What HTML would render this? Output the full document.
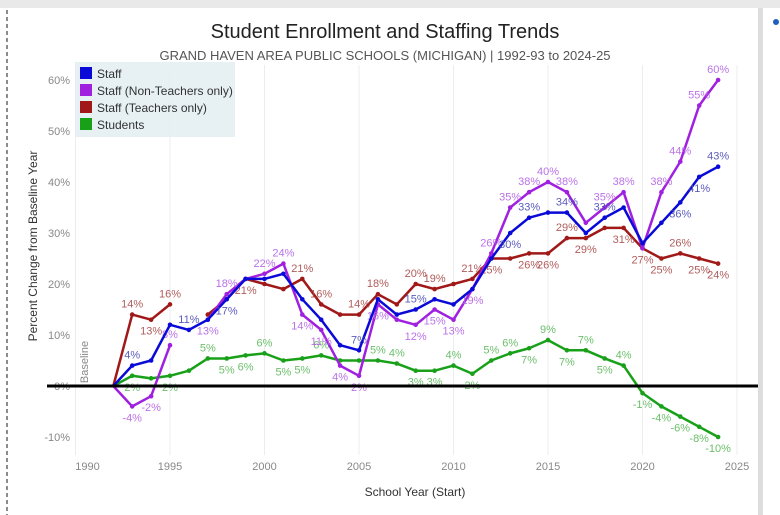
<!DOCTYPE html>
<html><head><meta charset="utf-8"><style>
body{margin:0;background:#fff;width:780px;height:515px;overflow:hidden;font-family:"Liberation Sans","DejaVu Sans",sans-serif}
svg{display:block}
</style></head><body>
<svg id="chart" width="780" height="515">
<rect x="0" y="0" width="780" height="8" fill="#e9e9e9"/>
<line x1="7" y1="10" x2="7" y2="515" stroke="#666" stroke-dasharray="4,3" stroke-width="1.5"/>
<rect x="758" y="8" width="5" height="507" fill="#ddd"/>
<circle cx="776" cy="22" r="3" fill="#1f5fbf"/>
<text x="385" y="38" text-anchor="middle" font-size="20" fill="#222">Student Enrollment and Staffing Trends</text>
<text x="385" y="60" text-anchor="middle" font-size="13" fill="#555">GRAND HAVEN AREA PUBLIC SCHOOLS (MICHIGAN) | 1992-93 to 2024-25</text>
<g id="grid"></g>
<g id="marks"></g>
<g>
<rect x="75" y="62" width="160" height="75" fill="#e4eef2" opacity="0.9"/>
<rect x="80" y="67" width="12" height="12" fill="#0a0ad8"/>
<text x="97" y="78" font-size="12" fill="#333">Staff</text>
<rect x="80" y="84" width="12" height="12" fill="#a020e0"/>
<text x="97" y="95" font-size="12" fill="#333">Staff (Non-Teachers only)</text>
<rect x="80" y="101" width="12" height="12" fill="#a01818"/>
<text x="97" y="112" font-size="12" fill="#333">Staff (Teachers only)</text>
<rect x="80" y="118" width="12" height="12" fill="#18a018"/>
<text x="97" y="129" font-size="12" fill="#333">Students</text>
</g>
<text transform="translate(37,246) rotate(-90)" text-anchor="middle" font-size="12" fill="#333">Percent Change from Baseline Year</text>
<text transform="translate(88,362) rotate(-90)" text-anchor="middle" font-size="11" fill="#888">Baseline</text>
<text x="415" y="496" text-anchor="middle" font-size="12" fill="#333">School Year (Start)</text>
</svg>
<script>
const years=[];for(let y=1992;y<=2024;y++)years.push(y);
const staff=[0,4,5,12,11,13,17,21,21,22,17,13,8,7,17,14,15,17,16,19,25,30,33,34,34,30,33,35,28,32,36,41,43];
const nonTeachers=[0,-4,-2,8,null,13,18,21,22,24,14,11,4,2,16,13,12,15,13,19,26,35,38,40,38,32,35,38,27,38,44,55,60];
const teachers=[0,14,13,16,null,14,17,21,20,19,21,16,14,14,18,16,20,19,20,21,25,25,26,26,29,29,31,31,27,25,26,25,24];
const students=[0,2,1.5,2,3,5.4,5.4,6,6.4,5,5.4,6,5,5,5,4.4,3,3,4,2.4,5,6.4,7.4,9,7,7,5.4,4,-1.4,-4,-6,-8,-10];
const staffLabels=[[1993,'a'],[1996,'a'],[1998,'b'],[2005,'a'],[2008,'a'],[2013,'b'],[2014,'a'],[2016,'a'],[2018,'a'],[2022,'b'],[2023,'b'],[2024,'a']];
const nonTeacherLabels=[[1993,'b'],[1994,'b'],[1995,'a'],[1997,'b'],[1998,'a'],[2000,'a'],[2001,'a'],[2002,'b'],[2003,'b'],[2004,'b'],[2005,'b'],[2006,'b'],[2008,'b'],[2009,'b'],[2010,'b'],[2011,'b'],[2012,'a'],[2013,'a'],[2014,'a'],[2015,'a'],[2016,'a'],[2018,'a'],[2019,'a'],[2021,'a'],[2022,'a'],[2023,'a'],[2024,'a']];
const teacherLabels=[[1993,'a'],[1994,'b'],[1995,'a'],[1999,'b'],[2002,'a'],[2003,'a'],[2005,'a'],[2006,'a'],[2008,'a'],[2009,'a'],[2011,'a'],[2012,'b'],[2014,'b'],[2015,'b'],[2016,'a'],[2017,'b'],[2019,'b'],[2020,'b'],[2021,'b'],[2022,'a'],[2023,'b'],[2024,'b']];
const studentLabels=[[1993,'b'],[1995,'b'],[1997,'a'],[1998,'b'],[1999,'b'],[2000,'a'],[2001,'b'],[2002,'b'],[2003,'a'],[2006,'a'],[2007,'a'],[2008,'b'],[2009,'b'],[2010,'a'],[2011,'b'],[2012,'a'],[2013,'a'],[2014,'b'],[2015,'a'],[2016,'b'],[2017,'a'],[2018,'b'],[2019,'a'],[2020,'b'],[2021,'b'],[2022,'b'],[2023,'b'],[2024,'b']];
const yTicks=[-10,0,10,20,30,40,50,60];
const xTicks=[1990,1995,2000,2005,2010,2015,2020,2025];
const X=yr=>170+(yr-1995)*18.9;
const Y=v=>386-5.1*v;
const NS="http://www.w3.org/2000/svg";
const grid=document.getElementById('grid'),marks=document.getElementById('marks');
function mk(tag,attrs,parent){const e=document.createElementNS(NS,tag);for(const k in attrs)e.setAttribute(k,attrs[k]);parent.appendChild(e);return e;}
xTicks.forEach(t=>{
 const l=mk('line',{x1:X(t),x2:X(t),y1:65,y2:455,stroke:'#ececec'},grid);
 
 
 const tx=mk('text',{x:t===1990?X(t)+12:X(t),y:470,'text-anchor':'middle','font-size':11,fill:'#888'},grid);
 tx.textContent=t;
 
 
});
yTicks.forEach(t=>{
 const tx=mk('text',{x:70,y:Y(t)+4,'text-anchor':'end','font-size':11,fill:'#888'},grid);
 tx.textContent=t+'%';
 
 
});
const series=[
 {name:'students',d:students,c:'#18a018',lc:'#5cb85c',lab:studentLabels},
 {name:'teachers',d:teachers,c:'#a01818',lc:'#a84a4a',lab:teacherLabels},
 {name:'nonteachers',d:nonTeachers,c:'#a020e0',lc:'#b464e6',lab:nonTeacherLabels},
 {name:'staff',d:staff,c:'#0a0ad8',lc:'#4a4ab8',lab:staffLabels}
];
series.forEach(s=>{
 let segs=[],cur=[];
 s.d.forEach((v,i)=>{if(v===null){if(cur.length)segs.push(cur);cur=[];}else cur.push([X(years[i]),Y(v)]);});
 if(cur.length)segs.push(cur);
 segs.forEach(sg=>{
  const p=mk('polyline',{points:sg.map(q=>q.join(',')).join(' '),fill:'none',stroke:s.c,'stroke-width':2.5,'stroke-linejoin':'round'},marks);
  
  
 });
 s.d.forEach((v,i)=>{
  if(v===null||i===0)return;
  const c=mk('circle',{cx:X(years[i]),cy:Y(v),r:2.3,fill:s.c},marks);
  
  
 });
 s.lab.forEach(([yr,pos])=>{
  const i=years.indexOf(yr);const v=s.d[i];if(v==null)return;
  const t=mk('text',{x:X(yr),y:Y(v)+(pos==='a'?-7:15),'text-anchor':'middle','font-size':11,fill:s.lc,opacity:0.9},marks);
  t.textContent=Math.round(v)+'%';
  
  
 });
});
const z=mk('line',{x1:47,x2:758,y1:Y(0),y2:Y(0),stroke:'#000','stroke-width':3},marks);


</script>
</body></html>
